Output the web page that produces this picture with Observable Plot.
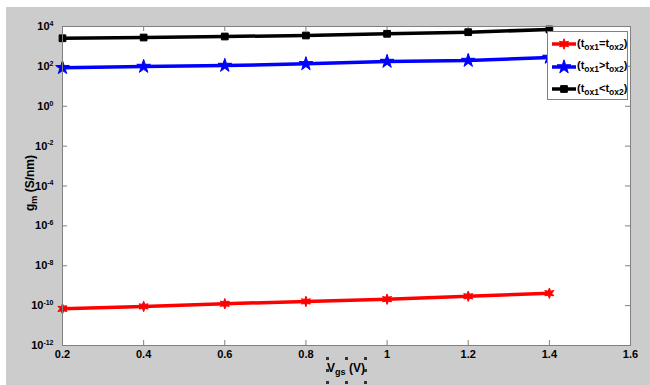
<!DOCTYPE html>
<html><head><meta charset="utf-8">
<script src="https://cdn.jsdelivr.net/npm/d3@7"></script>
<script src="https://cdn.jsdelivr.net/npm/@observablehq/plot@0.6"></script>
<style>
body{margin:0;background:#fff;}
#wrap{position:relative;width:650px;height:385px;background:#fff;overflow:hidden;font-family:"Liberation Sans",Arial,sans-serif;font-weight:bold;color:#000;}
#chart{position:absolute;left:6px;top:7px;}
#legend{position:absolute;left:547px;top:31px;width:81px;height:69px;background:#fff;border:1px solid #808080;box-sizing:border-box;}
.row{position:absolute;left:2px;height:16px;display:flex;align-items:center;font-size:11px;white-space:nowrap;}
.row sub{font-size:8.5px;vertical-align:-3px;}
.lab sub{font-size:9px;vertical-align:-3px;}
.lab{position:absolute;font-size:12px;white-space:nowrap;}
.h{position:absolute;width:3px;height:3px;background:#333;}
</style></head><body>
<div id="wrap"><div id="chart"></div><div id="legend"></div>
<div class="lab" id="ylab" style="left:31px;top:183px;transform:translate(-50%,-50%) rotate(-90deg);">g<sub>m</sub> (S/nm)</div>
<div class="lab" id="xlab" style="left:346px;top:369px;transform:translate(-50%,-50%);">V<sub>gs</sub> (V)</div>
</div>
<script>
const vgs = [0.2, 0.4, 0.6, 0.8, 1.0, 1.2, 1.4];
const gmEqual   = [6.9e-11, 9.1e-11, 1.24e-10, 1.62e-10, 2.1e-10, 2.95e-10, 4.2e-10];
const gmGreater = [85, 98, 110, 134, 175, 196, 280];
const gmLess    = [2570, 2800, 3150, 3540, 4300, 5180, 7070];
const seriesRel = ["=", ">", "<"];
const xTicks = [0.2, 0.4, 0.6, 0.8, 1.0, 1.2, 1.4, 1.6];
const yTicks = [1e-12, 1e-10, 1e-8, 1e-6, 1e-4, 1e-2, 1e0, 1e2, 1e4];

const hexagram = {draw(ctx, size){
  const R = Math.sqrt(size / Math.PI) * 1.25, r = R * 0.45;
  for (let i = 0; i < 12; i++) {
    const a = i * Math.PI / 6 - Math.PI / 2, rr = i % 2 ? r : R;
    const x = rr * Math.cos(a), y = rr * Math.sin(a);
    i ? ctx.lineTo(x, y) : ctx.moveTo(x, y);
  }
  ctx.closePath();
}};

const series = [
  {values: gmEqual, color: "#ff0000", symbol: hexagram, r: 4.2},
  {values: gmGreater, color: "#0000ff", symbol: "star", r: 4.3},
  {values: gmLess, color: "#000000", symbol: "square", r: 3.8}
];
const rows = series.flatMap((s, k) => vgs.map((x, i) => ({k, x, y: s.values[i]})));

const W = 644, H = 378, mL = 56, mR = 20, mT = 19, mB = 40;
const iw = W - mL - mR, ih = H - mT - mB;
const tk = "#808080";

const marks = [
  Plot.frame({fill: "white", stroke: "none"}),
  Plot.tickY(yTicks, {y: d => d, stroke: tk, insetRight: iw - 5}),
  Plot.tickY(yTicks, {y: d => d, stroke: tk, insetLeft: iw - 5}),
  Plot.tickX(xTicks, {x: d => d, stroke: tk, insetTop: ih - 5}),
  Plot.tickX(xTicks, {x: d => d, stroke: tk, insetBottom: ih - 5}),
  Plot.axisX(xTicks, {tickSize: 0, tickPadding: 5, label: null, tickFormat: d => String(+d.toFixed(1))}),
  Plot.axisY(yTicks, {tickSize: 0, tickPadding: 9, label: null, tickFormat: d => String(Math.round(Math.log10(d)))}),
];
series.forEach((s, k) => {
  const d = rows.filter(r => r.k === k);
  marks.push(Plot.line(d, {x: "x", y: "y", stroke: s.color, strokeWidth: 3.5}));
  marks.push(Plot.dot(d, {x: "x", y: "y", symbol: s.symbol, r: s.r, fill: s.color, stroke: s.color, strokeWidth: 1}));
});
marks.push(Plot.frame({stroke: tk}));

const chart = Plot.plot({
  width: W, height: H, marginLeft: mL, marginRight: mR, marginTop: mT, marginBottom: mB,
  style: {background: "#cccccc", fontFamily: '"Liberation Sans", Arial, sans-serif', fontSize: "11px", fontWeight: "bold", color: "#000", overflow: "visible"},
  x: {domain: [0.2, 1.6], label: null},
  y: {type: "log", domain: [1e-12, 1e4], label: null},
  marks
});
document.getElementById("chart").appendChild(chart);

// superscript exponent on y tick labels
d3.select(chart).selectAll('g[aria-label="y-axis tick label"] text').each(function(){
  const t = d3.select(this); const e = t.text(); t.text("");
  t.append("tspan").text("10");
  t.append("tspan").attr("dy", "-0.6em").attr("font-size", "7px").text(e);
});

// legend
const leg = document.getElementById("legend");
series.forEach((s, k) => {
  const row = document.createElement("div");
  row.className = "row";
  row.style.top = (4 + k * 22.5) + "px";
  const svg = d3.create("svg").attr("width", 27).attr("height", 16);
  svg.append("line").attr("x1", 2).attr("x2", 26).attr("y1", 8).attr("y2", 8).attr("stroke", s.color).attr("stroke-width", 3.5);
  const sym = typeof s.symbol === "string" ? (s.symbol === "star" ? d3.symbolStar : d3.symbolSquare) : s.symbol;
  svg.append("path").attr("transform", "translate(14,8)").attr("d", d3.symbol(sym, Math.PI * s.r * s.r)()).attr("fill", s.color).attr("stroke", s.color);
  row.appendChild(svg.node());
  const sp = document.createElement("span");
  sp.innerHTML = "(t<sub>ox1</sub>" + seriesRel[k].replace("<", "&lt;").replace(">", "&gt;") + "t<sub>ox2</sub>)";
  row.appendChild(sp);
  leg.appendChild(row);
});

// selection handles around x label
const wrap = document.getElementById("wrap");
[[326,357],[345,357],[364,357],[326,369],[364,369],[326,381],[345,381],[364,381]].forEach(([x,y]) => {
  const h = document.createElement("div"); h.className = "h"; h.style.left = x + "px"; h.style.top = y + "px"; wrap.appendChild(h);
});
</script>
</body></html>
